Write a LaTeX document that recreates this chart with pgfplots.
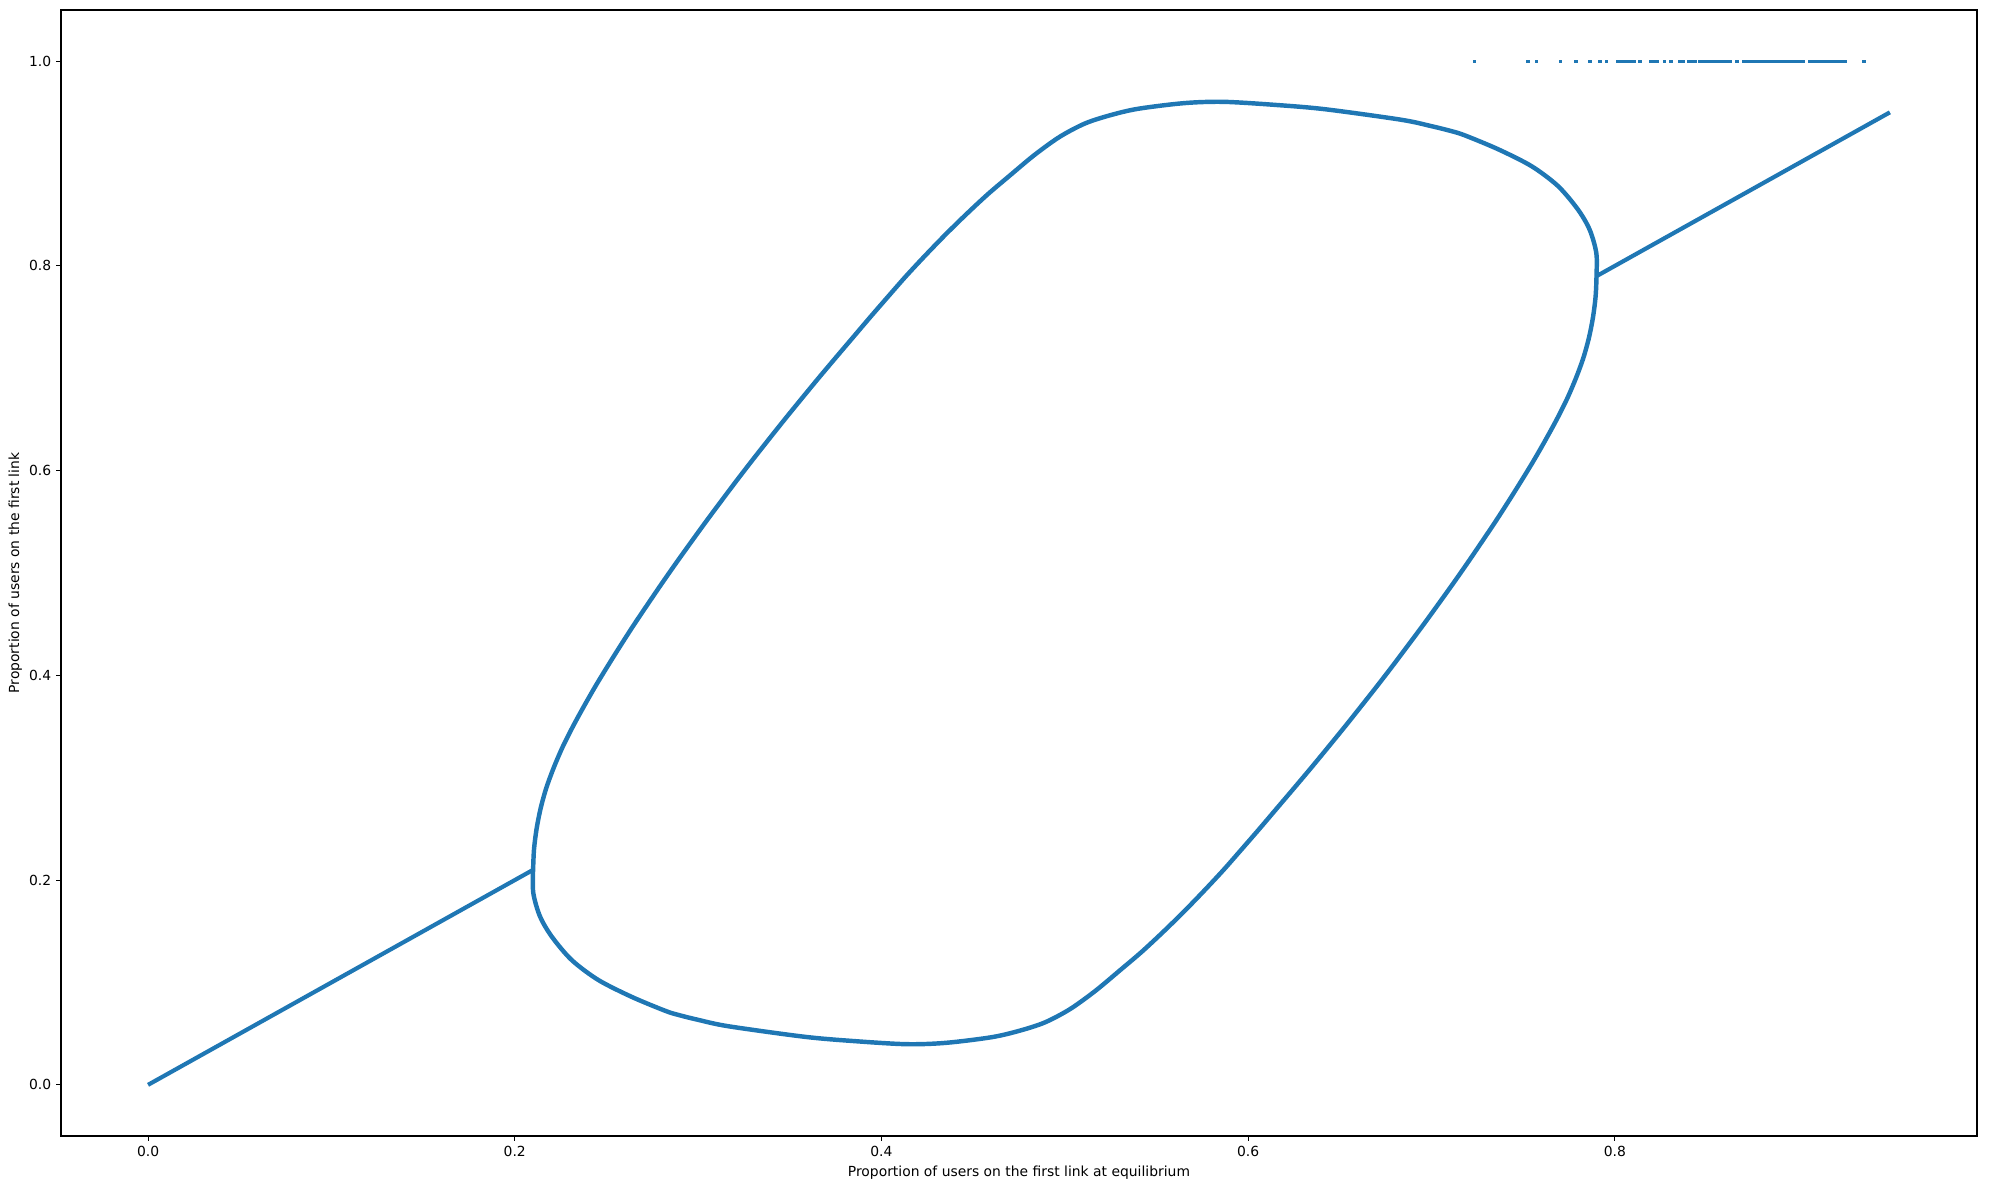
\documentclass[border=0pt]{standalone}
\usepackage{fontspec}
\setmainfont{DejaVu Sans}
\usepackage{pgfplots}
\pgfplotsset{compat=1.18}
\definecolor{tabblue}{HTML}{1F77B4}

\begin{document}
\begin{tikzpicture}
\begin{axis}[
  name=ax,
  scale only axis,
  width=1379.5pt, height=810.7pt,
  xmin=-0.0475, xmax=0.9975,
  ymin=-0.05, ymax=1.05,
  xtick={0,0.2,0.4,0.6,0.8},
  ytick={0,0.2,0.4,0.6,0.8,1.0},
  tick pos=left, tick align=outside,
  major tick length=3.5pt,
  axis line style={line width=0.8pt},
  every tick/.style={black, line width=0.8pt},
  /pgf/number format/assume math mode=true,
  ticklabel style={font=\fontsize{10}{12}\selectfont,
    /pgf/number format/.cd, fixed, fixed zerofill, precision=1},
  xlabel={Proportion of users on the first link at equilibrium},
  ylabel={Proportion of users on the first link},
  label style={font=\fontsize{10}{12}\selectfont},
  every axis x label/.style={at={(axis description cs:0.5,-0.0326)}, anchor=center},
  every axis y label/.style={at={(axis description cs:-0.0239,0.5)}, anchor=center, rotate=90},
]

% straight branches
\addplot[tabblue, line width=3pt] coordinates {(0,0) (0.21,0.21)};
\addplot[tabblue, line width=3pt] coordinates {(0.79,0.79) (0.95,0.95)};

% closed loop: upper half, then lower half
\addplot[tabblue, line width=3.2pt, smooth, line join=round] coordinates {
(0.2100,0.2100) (0.2105,0.2300) (0.2119,0.2500) (0.2141,0.2700)
(0.2172,0.2900) (0.2213,0.3100) (0.2261,0.3300) (0.2317,0.3500)
(0.2378,0.3700) (0.2442,0.3900) (0.2510,0.4100) (0.2580,0.4300)
(0.2652,0.4500) (0.2727,0.4700) (0.2803,0.4900) (0.2881,0.5100)
(0.2961,0.5300) (0.3042,0.5500) (0.3125,0.5700) (0.3209,0.5900)
(0.3295,0.6100) (0.3383,0.6300) (0.3472,0.6500) (0.3563,0.6700)
(0.3655,0.6900) (0.3749,0.7100) (0.3844,0.7300) (0.3939,0.7500)
(0.4036,0.7700) (0.4134,0.7900) (0.4238,0.8100) (0.4346,0.8300)
(0.4460,0.8500) (0.4580,0.8700) (0.4693,0.8872) (0.4834,0.9083)
(0.4973,0.9262) (0.5111,0.9392) (0.5250,0.9473) (0.5400,0.9535)
(0.5650,0.9590) (0.5862,0.9603) (0.6139,0.9574) (0.6417,0.9531)
(0.6834,0.9428) (0.7000,0.9365) (0.7112,0.9315) (0.7182,0.9275)
(0.7363,0.9140) (0.7545,0.8975) (0.7690,0.8780) (0.7799,0.8550)
(0.7863,0.8352) (0.7899,0.8125) (0.7900,0.7900)
(0.7895,0.7700) (0.7881,0.7500) (0.7859,0.7300) (0.7828,0.7100)
(0.7787,0.6900) (0.7739,0.6700) (0.7683,0.6500) (0.7622,0.6300)
(0.7558,0.6100) (0.7490,0.5900) (0.7420,0.5700) (0.7348,0.5500)
(0.7273,0.5300) (0.7197,0.5100) (0.7119,0.4900) (0.7039,0.4700)
(0.6958,0.4500) (0.6875,0.4300) (0.6791,0.4100) (0.6705,0.3900)
(0.6617,0.3700) (0.6528,0.3500) (0.6437,0.3300) (0.6345,0.3100)
(0.6251,0.2900) (0.6156,0.2700) (0.6061,0.2500) (0.5964,0.2300)
(0.5866,0.2100) (0.5762,0.1900) (0.5654,0.1700) (0.5540,0.1500)
(0.5420,0.1300) (0.5307,0.1128) (0.5166,0.0917) (0.5027,0.0738)
(0.4889,0.0608) (0.4750,0.0527) (0.4600,0.0465) (0.4350,0.0410)
(0.4138,0.0397) (0.3861,0.0426) (0.3583,0.0469) (0.3166,0.0572)
(0.3000,0.0635) (0.2888,0.0685) (0.2818,0.0725) (0.2637,0.0860)
(0.2455,0.1025) (0.2310,0.1220) (0.2201,0.1450) (0.2137,0.1648)
(0.2101,0.1875) (0.2100,0.2100)
};

% scattered points at 1.0
\addplot[only marks, mark=square*, mark size=1pt, tabblue] coordinates {
(0.7233,1) (0.7523,1) (0.7572,1) (0.7702,1) (0.7785,1) (0.7864,1)
(0.7919,1) (0.7953,1)
(0.8015,1) (0.8030,1) (0.8045,1) (0.8060,1) (0.8075,1) (0.8090,1) (0.8105,1)
(0.8137,1) (0.8195,1) (0.8215,1) (0.8230,1) (0.8269,1) (0.8305,1)
(0.8352,1) (0.8371,1) (0.8405,1) (0.8420,1) (0.8438,1)
(0.8465,1) (0.8481,1) (0.8497,1) (0.8513,1) (0.8529,1) (0.8545,1)
(0.8561,1) (0.8577,1) (0.8593,1) (0.8609,1) (0.8625,1)
(0.8663,1)
(0.8700,1) (0.8716,1) (0.8732,1) (0.8748,1) (0.8764,1) (0.8780,1)
(0.8796,1) (0.8812,1) (0.8828,1) (0.8844,1) (0.8860,1) (0.8876,1) (0.8888,1)
(0.8903,1) (0.8918,1) (0.8933,1) (0.8948,1) (0.8963,1) (0.8978,1)
(0.8993,1) (0.9008,1) (0.9024,1)
(0.9061,1) (0.9078,1) (0.9095,1) (0.9111,1)
(0.9124,1) (0.9140,1) (0.9156,1) (0.9172,1) (0.9188,1) (0.9204,1)
(0.9220,1) (0.9232,1)
(0.9253,1) (0.9357,1)
};
\end{axis}
\path ([shift={(-43.9pt,-38.9pt)}]ax.south west) rectangle ([shift={(9.4pt,7.2pt)}]ax.north east);
\end{tikzpicture}
\end{document}
